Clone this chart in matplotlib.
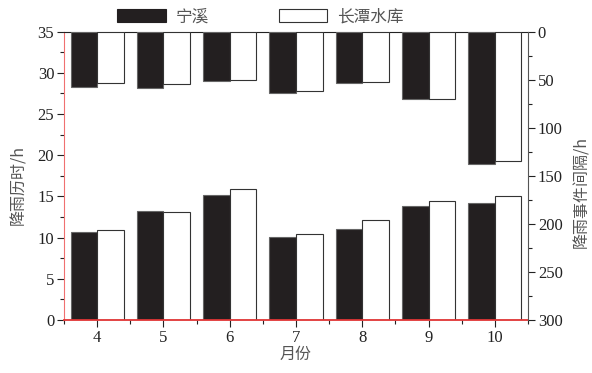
import numpy as np
import matplotlib
matplotlib.use("Agg")
import matplotlib.pyplot as plt
from matplotlib.patches import Patch
from matplotlib.ticker import MultipleLocator

plt.rcParams['font.family'] = ['Liberation Serif', 'Noto Sans CJK SC']

months = [4, 5, 6, 7, 8, 9, 10]
# rainfall duration (left axis, h)
dur_ningxi = [10.7, 13.2, 15.2, 10.1, 11.0, 13.9, 14.2]
dur_changtan = [10.9, 13.1, 15.9, 10.5, 12.2, 14.5, 15.0]
# inter-event interval (right axis, h, drawn downward)
gap_ningxi = [57.9, 58.9, 51.6, 64.1, 53.7, 70.0, 138.0]
gap_changtan = [53.7, 54.8, 49.9, 61.4, 52.7, 69.7, 135.0]
series_names = ['宁溪', '长潭水库']

dark = '#231f20'
cjk = 'Noto Sans CJK SC'
label_col = '#555555'

fig = plt.figure(figsize=(5.92, 3.73), dpi=100)
ax = fig.add_axes([0.108, 0.142, 0.784, 0.773])
ax2 = ax.twinx()

x = np.array(months, dtype=float)
w = 0.4
ax.bar(x - w / 2, dur_ningxi, w, color=dark, edgecolor='#666666', linewidth=0.8, zorder=2)
ax.bar(x + w / 2, dur_changtan, w, color='white', edgecolor='#333333', linewidth=0.8, zorder=2)
ax2.bar(x - w / 2, gap_ningxi, w, color=dark, edgecolor='#666666', linewidth=0.8)
ax2.bar(x + w / 2, gap_changtan, w, color='white', edgecolor='#333333', linewidth=0.8)

ax.set_xlim(3.5, 10.5)
ax.set_ylim(0, 35)
ax2.set_ylim(300, 0)

ax.set_xticks(months)
ax.set_xticklabels([str(m) for m in months])
ax.set_xticks(np.arange(3.5, 10.6, 1.0), minor=True)
ax.yaxis.set_major_locator(MultipleLocator(5))
ax.yaxis.set_minor_locator(MultipleLocator(2.5))
ax2.yaxis.set_major_locator(MultipleLocator(50))
ax2.yaxis.set_minor_locator(MultipleLocator(25))

for a in (ax, ax2):
    a.tick_params(which='both', direction='out', labelsize=12, colors='#222222', pad=2)
    a.tick_params(which='major', length=5, width=0.8)
    a.tick_params(which='minor', length=3, width=0.8)

ax.spines['left'].set_color('#f07070')
ax.spines['bottom'].set_color('#e03535')
ax.spines['bottom'].set_linewidth(1.3)
ax.spines['top'].set_color('#222222')
ax2.spines['left'].set_visible(False)
ax2.spines['bottom'].set_visible(False)
ax2.spines['top'].set_visible(False)
ax2.spines['right'].set_color('#555555')
ax.spines['right'].set_visible(False)

ax.set_xlabel('月份', family=cjk, fontsize=11.5, color=label_col, labelpad=0)
ax.set_ylabel('降雨历时/h', family=[cjk, 'DejaVu Sans'], fontsize=11.5, color=label_col)
ax2.set_ylabel('降雨事件间隔/h', family=[cjk, 'DejaVu Sans'], fontsize=11.5, color=label_col,
               rotation=90)
ax.yaxis.set_label_coords(-0.078, 0.47)
ax2.yaxis.set_label_coords(1.097, 0.445)

handles = [Patch(facecolor=dark, edgecolor=dark, linewidth=0.8),
           Patch(facecolor='white', edgecolor='#333333', linewidth=0.8)]
leg = fig.legend(handles, series_names, loc='center', bbox_to_anchor=(0.44, 0.955), ncol=2,
                 frameon=False, handlelength=2.9, handleheight=0.9, handletextpad=0.6,
                 columnspacing=4.2, prop={'family': cjk, 'size': 12})
for t in leg.get_texts():
    t.set_color(label_col)

fig.savefig('out.png', dpi=100)
